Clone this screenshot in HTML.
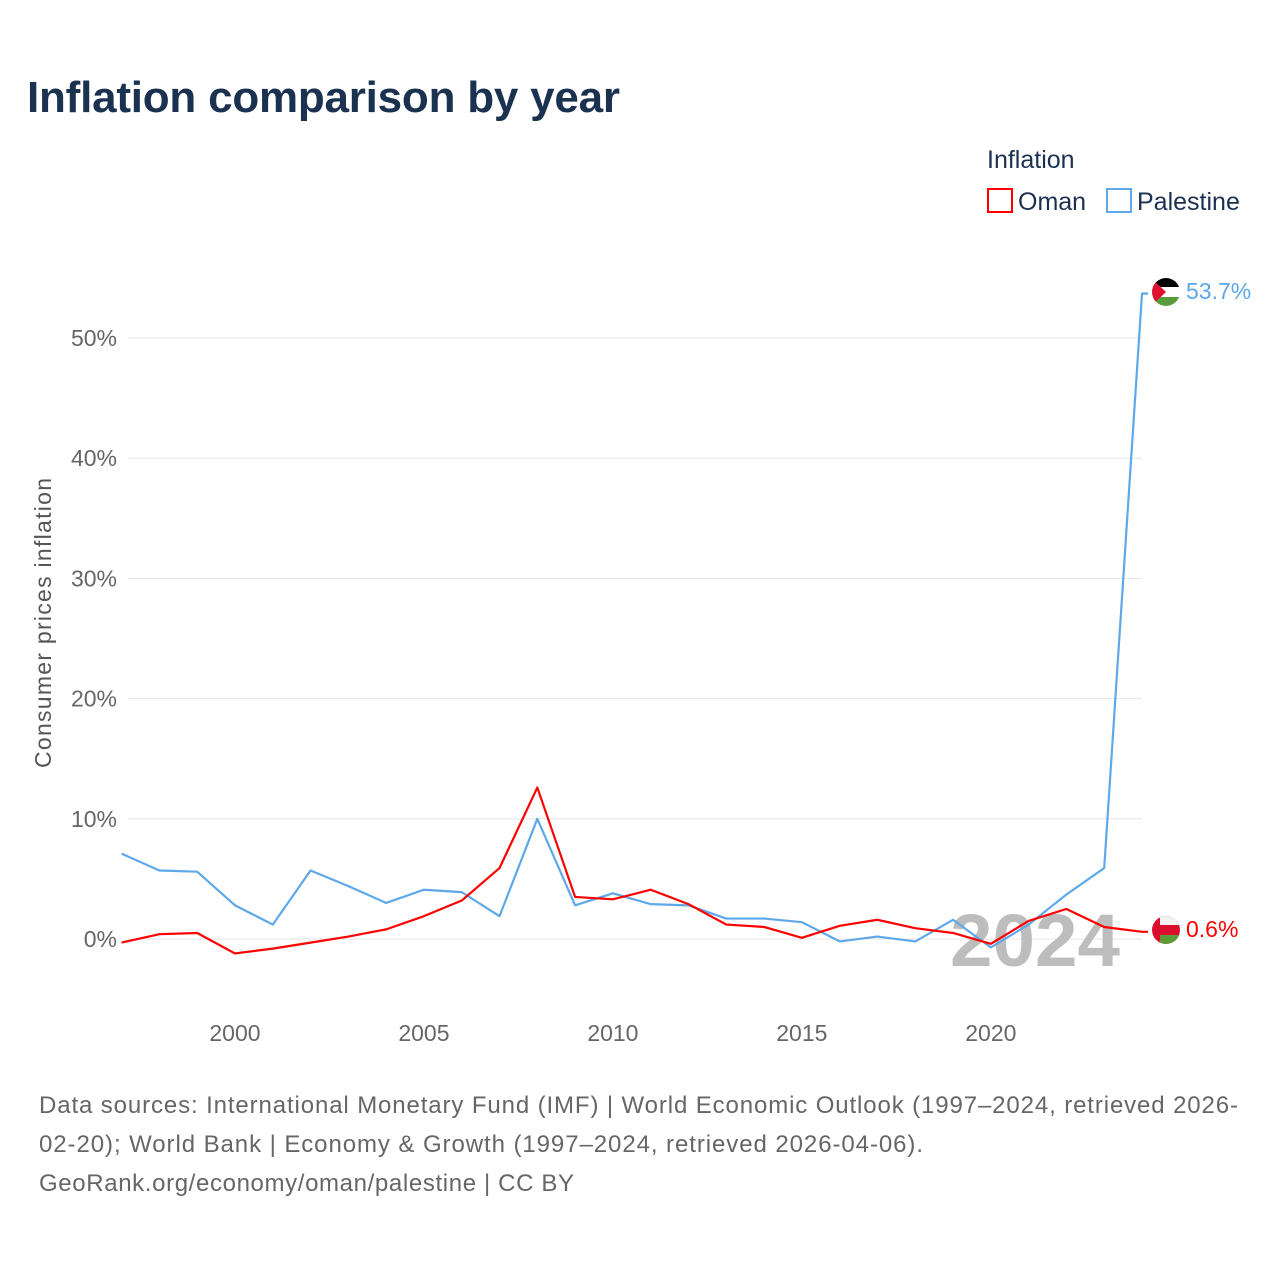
<!DOCTYPE html>
<html><head><meta charset="utf-8"><style>
body{margin:0;background:#fff;width:1280px;height:1280px;overflow:hidden;font-family:"Liberation Sans",sans-serif}
svg text{font-family:"Liberation Sans",sans-serif}
</style></head><body>
<svg width="1280" height="1280">
<text x="27" y="112" font-size="44" font-weight="bold" fill="#1a3150" textLength="593">Inflation comparison by year</text>
<text x="987" y="168" font-size="25" fill="#1a3150">Inflation</text>
<g><rect x="988" y="189" width="24" height="23" fill="none" stroke="#f00" stroke-width="2"/><text x="1018" y="210" font-size="25" fill="#1a3150">Oman</text></g>
<g><rect x="1107" y="189" width="24" height="23" fill="none" stroke="#5ea8ea" stroke-width="2"/><text x="1137" y="210" font-size="25" fill="#1a3150">Palestine</text></g>
<g id="grid"></g>
<text x="950" y="966" font-size="74" font-weight="bold" fill="#bdbdbd" textLength="170" lengthAdjust="spacingAndGlyphs">2024</text>
<g id="lines"></g>
<text transform="translate(51,623) rotate(-90)" text-anchor="middle" font-size="23" fill="#555" textLength="290">Consumer prices inflation</text>
<g>
<clipPath id="cp"><circle cx="1166" cy="292" r="14"/></clipPath>
<g clip-path="url(#cp)"><rect x="1150" y="277" width="32" height="10" fill="#000"/><rect x="1150" y="287" width="32" height="10" fill="#fff"/><rect x="1150" y="297" width="32" height="10" fill="#5a9b3a"/><polygon points="1150,277 1166,292 1150,307" fill="#e01030"/></g></g>
<g>
<clipPath id="co"><circle cx="1166" cy="930" r="14"/></clipPath>
<g clip-path="url(#co)"><rect x="1150" y="915" width="32" height="30" fill="#db0f2d"/><rect x="1160" y="915" width="22" height="10" fill="#f2f2f2"/><rect x="1160" y="935" width="22" height="10" fill="#5a9b3a"/></g></g>
<text x="1186" y="299" font-size="23" fill="#5ea8ea">53.7%</text>
<text x="1186" y="937" font-size="23" fill="#f00">0.6%</text>
<text font-size="24" fill="#666"><tspan x="39" y="1113" textLength="1199">Data sources: International Monetary Fund (IMF) | World Economic Outlook (1997–2024, retrieved 2026-</tspan><tspan x="39" y="1152" textLength="884">02-20); World Bank | Economy &amp; Growth (1997–2024, retrieved 2026-04-06).</tspan><tspan x="39" y="1191" textLength="535">GeoRank.org/economy/oman/palestine | CC BY</tspan></text>
</svg>
<script>
const years=[1997,1998,1999,2000,2001,2002,2003,2004,2005,2006,2007,2008,2009,2010,2011,2012,2013,2014,2015,2016,2017,2018,2019,2020,2021,2022,2023,2024];
const oman=[-0.3,0.4,0.5,-1.2,-0.8,-0.3,0.2,0.8,1.9,3.2,5.9,12.6,3.5,3.3,4.1,2.9,1.2,1.0,0.1,1.1,1.6,0.9,0.5,-0.4,1.5,2.5,1.0,0.6];
const palestine=[7.1,5.7,5.6,2.8,1.2,5.7,4.4,3.0,4.1,3.9,1.9,10.0,2.8,3.8,2.9,2.8,1.7,1.7,1.4,-0.2,0.2,-0.2,1.6,-0.7,1.2,3.7,5.9,53.7];
const yTicks=[0,10,20,30,40,50];
const xTicks=[2000,2005,2010,2015,2020];
const X=y=>121.6+(y-1997)*(1142-121.6)/27;
const Y=v=>939-v*12.02;
const NS='http://www.w3.org/2000/svg';
const g=document.getElementById('grid'),L=document.getElementById('lines');
yTicks.forEach(t=>{
 const l=document.createElementNS(NS,'line');
 l.setAttribute('x1',128);l.setAttribute('x2',1142);l.setAttribute('y1',Y(t));l.setAttribute('y2',Y(t));
 l.setAttribute('stroke','#e6e6e6');l.setAttribute('stroke-width',1);
 
 
 g.appendChild(l);
 const tx=document.createElementNS(NS,'text');
 tx.setAttribute('x',117);tx.setAttribute('y',Y(t)+8);tx.setAttribute('text-anchor','end');
 tx.setAttribute('font-size','23');tx.setAttribute('fill','#666');tx.textContent=t+'%';
 
 
 g.appendChild(tx);
});
xTicks.forEach(t=>{
 const tx=document.createElementNS(NS,'text');
 tx.setAttribute('x',X(t));tx.setAttribute('y',1041);tx.setAttribute('text-anchor','middle');
 tx.setAttribute('font-size','23');tx.setAttribute('fill','#666');tx.textContent=t;
 
 
 g.appendChild(tx);
});
function line(vals,color,name){
 const p=document.createElementNS(NS,'polyline');
 let pts=vals.map((v,i)=>X(years[i])+','+Y(v));
 pts.push((X(years[years.length-1])+6)+','+Y(vals[vals.length-1]));
 p.setAttribute('points',pts.join(' '));
 p.setAttribute('fill','none');p.setAttribute('stroke',color);p.setAttribute('stroke-width',2.2);
 p.setAttribute('stroke-linejoin','round');
 
 
 L.appendChild(p);
}
line(palestine,'#5ea8ea','palestine-line');
line(oman,'#f00','oman-line');
</script>
</body></html>
